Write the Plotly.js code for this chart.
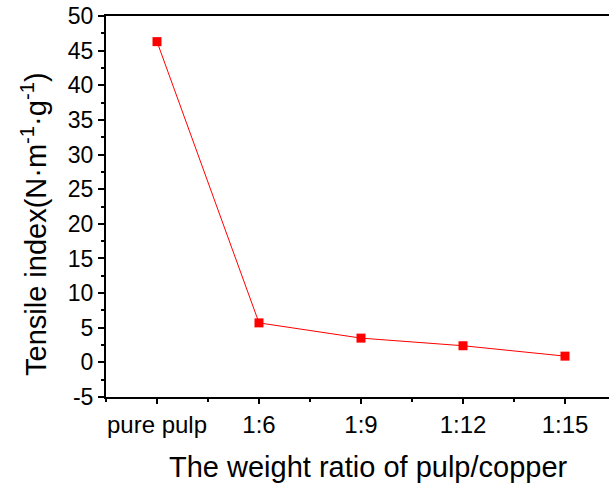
<!DOCTYPE html>
<html><head><meta charset="utf-8">
<script src="https://cdn.plot.ly/plotly-3.0.1.min.js"></script>
<style>html,body{margin:0;padding:0;overflow:hidden;background:#fff}</style>
</head><body><div id="chart"></div>
<script>
const categories = ["pure pulp", "1:6", "1:9", "1:12", "1:15"];
const tensileIndex = [46.3, 5.7, 3.5, 2.4, 0.9];
const xPositions = [0, 1, 2, 3, 4];
const yTickVals = [-5, 0, 5, 10, 15, 20, 25, 30, 35, 40, 45, 50];
const yTickText = ["-5", "0", "5", "10", "15", "20", "25", "30", "35", "40", "45", "50"];
const xTitle = "The weight ratio of pulp/copper";
const yTitle = "Tensile index(N·m<sup>-1</sup>·g<sup>-1</sup>)";

const font = "Liberation Sans, Arial, sans-serif";
const L = 106, R = 616, T = 16, B = 397;
Plotly.newPlot("chart", [{
  x: xPositions, y: tensileIndex, type: "scatter", mode: "lines+markers",
  line: {color: "#ff0000", width: 1},
  marker: {symbol: "square", size: 9, color: "#ff0000"}
}], {
  width: 620, height: 486,
  margin: {l: L, r: 620 - R, t: T, b: 486 - B},
  paper_bgcolor: "#fff", plot_bgcolor: "#fff",
  showlegend: false,
  font: {family: font, color: "#000"},
  xaxis: {
    range: [-0.5, 4.5], tickmode: "array", tickvals: xPositions, ticktext: categories,
    ticks: "outside", ticklen: 5, tickwidth: 2, tickcolor: "#000",
    minor: {tickmode: "array", tickvals: [-0.5, 0.5, 1.5, 2.5, 3.5], ticks: "outside", ticklen: 3, tickwidth: 2, tickcolor: "#000"},
    showline: true, linewidth: 2, linecolor: "#000", mirror: true,
    showgrid: false, zeroline: false,
    tickfont: {size: 24, family: font}, ticklabelstandoff: 0
  },
  yaxis: {
    range: [-5, 50], tickmode: "array", tickvals: yTickVals, ticktext: yTickText,
    ticks: "outside", ticklen: 6, tickwidth: 2, tickcolor: "#000",
    minor: {dtick: 2.5, ticks: "outside", ticklen: 3, tickwidth: 2, tickcolor: "#000"},
    showline: true, linewidth: 2, linecolor: "#000", mirror: true,
    showgrid: false, zeroline: false,
    tickfont: {size: 23, family: font}, ticklabelstandoff: 0
  },
  annotations: [
    {text: xTitle, xref: "paper", yref: "paper", showarrow: false,
     x: (368 - L) / (R - L), y: (B - 467) / (B - T), xanchor: "center", yanchor: "middle",
     font: {size: 29, family: font}},
    {text: yTitle, xref: "paper", yref: "paper", showarrow: false, textangle: -90,
     x: (34 - L) / (R - L), y: (B - 224) / (B - T), xanchor: "center", yanchor: "middle",
     font: {size: 29, family: font}}
  ]
}, {displayModeBar: false, staticPlot: true});
</script></body></html>
